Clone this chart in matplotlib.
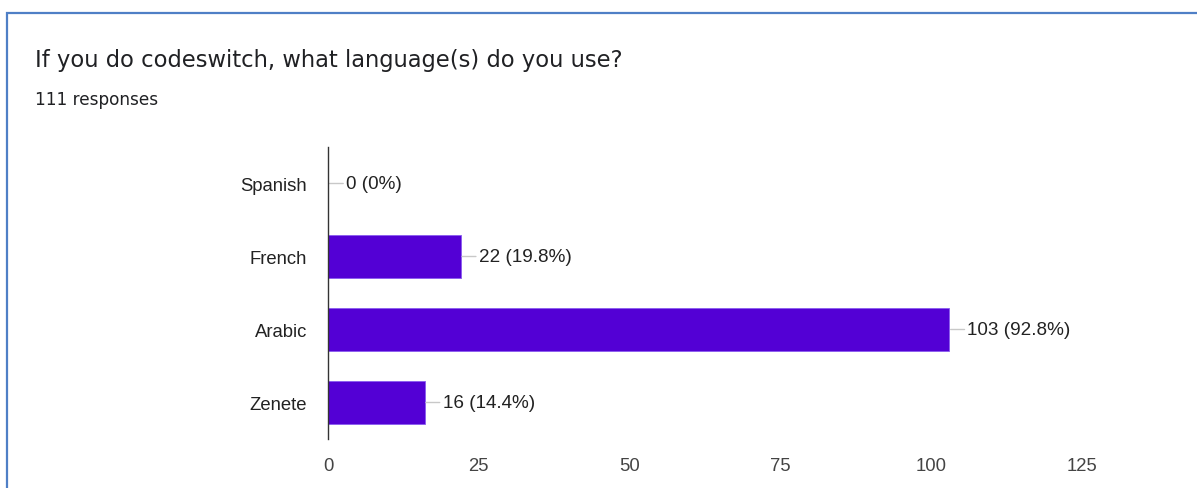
import matplotlib.pyplot as plt
import matplotlib.patches as patches

title = 'If you do codeswitch, what language(s) do you use?'
subtitle = '111 responses'
languages = ['Spanish', 'French', 'Arabic', 'Zenete']
counts = [0, 22, 103, 16]
percents = ['0%', '19.8%', '92.8%', '14.4%']
xticks = [0, 25, 50, 75, 100, 125]

W, H = 1197, 489
fig = plt.figure(figsize=(W / 100, H / 100), dpi=100)

# card border (top and left edges, the rest runs off the page)
fig.patches.append(patches.Rectangle((6.5 / W, -0.1), 1.2, 1.1 - 13.5 / H,
                                     transform=fig.transFigure, fill=False,
                                     edgecolor='#4f7fc6', linewidth=1.6))

fig.text(35 / W, 1 - 60 / H, title, fontsize=16.3, family='DejaVu Sans',
         color='#202124', va='center', ha='left')
fig.text(35 / W, 1 - 100 / H, subtitle, fontsize=12.2, family='DejaVu Sans',
         color='#202124', va='center', ha='left')

ax = fig.add_axes([328 / W, 1 - 440 / H, (1082 - 328) / W, 292 / H])
ypos = list(range(len(languages)))
ax.barh(ypos, counts, height=0.6, color='#5300d5', edgecolor='#8a5cf0',
        linewidth=0.6, zorder=2)

for y, c, p in zip(ypos, counts, percents):
    ax.annotate('%d (%s)' % (c, p), xy=(c, y), xytext=(18, 0),
                textcoords='offset pixels', va='center', ha='left',
                fontsize=13.6, family='Liberation Sans', color='#222222',
                arrowprops=dict(arrowstyle='-', color='#c8c8c8', lw=1,
                                shrinkA=0, shrinkB=1))

ax.set_ylim(3.5, -0.5)
ax.set_xlim(0, 125)
ax.set_yticks(ypos)
ax.set_yticklabels(languages, family='Liberation Sans', fontsize=13.3,
                   color='#222222')
ax.set_xticks(xticks)
ax.set_xticklabels([str(t) for t in xticks], family='Liberation Sans',
                   fontsize=13.3, color='#444444')
ax.tick_params(axis='both', length=0)
ax.tick_params(axis='y', pad=15)
ax.tick_params(axis='x', pad=13)
for s in ['top', 'right', 'bottom']:
    ax.spines[s].set_visible(False)
ax.spines['left'].set_color('#333333')
ax.spines['left'].set_linewidth(1)
ax.spines['left'].set_zorder(3)

fig.savefig('out.png', dpi=100)
